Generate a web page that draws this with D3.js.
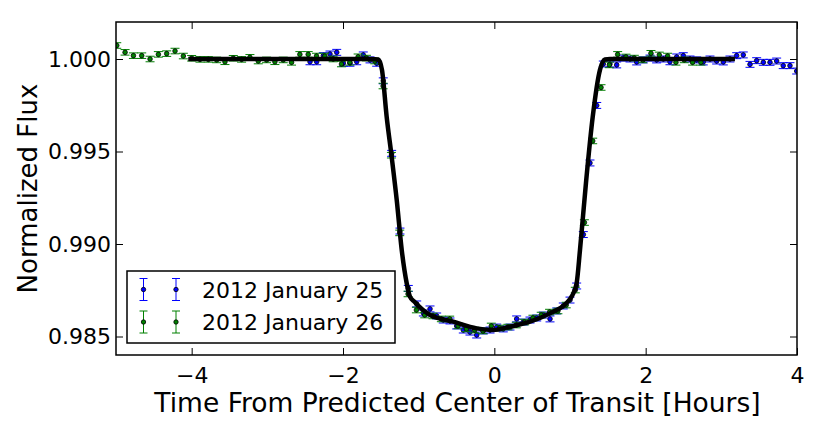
<!DOCTYPE html>
<html>
<head>
<meta charset="utf-8">
<script src="https://cdn.jsdelivr.net/npm/d3@7"></script>
<style>
body { margin: 0; background: #fff; }
text { font-family: "DejaVu Sans", sans-serif; }
</style>
</head>
<body>
<div id="chart"></div>
<script>
// data (hours from predicted mid-transit, normalized flux)
var blueTime = [-2.436, -2.348, -2.260, -2.172, -2.083, -1.996, -1.908, -1.819, -1.732, -1.643, -1.555,
  -1.468, -1.357, -1.247, -1.137,
  -1.026, -0.938, -0.850, -0.762, -0.675, -0.586, -0.498, -0.410, -0.322, -0.233, -0.146, -0.057,
  0.031, 0.118, 0.207, 0.295, 0.382, 0.471, 0.560, 0.647, 0.736, 0.824, 0.911, 1.000, 1.088,
  1.176, 1.264, 1.353, 1.440,
  1.528, 1.617, 1.704, 1.793, 1.881, 1.968, 2.057, 2.145, 2.233, 2.321, 2.410, 2.497, 2.586, 2.674,
  2.761, 2.850, 2.938, 3.026, 3.114, 3.203, 3.290, 3.379, 3.467, 3.555, 3.643, 3.731, 3.818, 3.907, 3.996];
var blueFlux = [0.99985, 0.99985, 1.00018, 1.00027, 1.00036, 0.99977, 0.99977, 0.99985, 1.00022, 0.99995, 0.99977,
  0.99882, 0.99490, 0.99070, 0.98760,
  0.98676, 0.98627, 0.98649, 0.98611, 0.98589, 0.98584, 0.98557, 0.98535, 0.98524, 0.98508, 0.98530, 0.98535,
  0.98551, 0.98541, 0.98551, 0.98595, 0.98578, 0.98589, 0.98600, 0.98616, 0.98595, 0.98638, 0.98665, 0.98697, 0.98773,
  0.99051, 0.99438, 0.99749, 0.99973,
  0.99973, 0.99968, 1.00005, 1.00000, 0.99984, 0.99995, 1.00005, 0.99995, 1.00000, 0.99985, 1.00011, 1.00018, 1.00000, 0.99995,
  0.99984, 1.00000, 0.99989, 0.99984, 1.00000, 1.00018, 1.00022, 0.99971, 0.99991, 0.99982, 0.99982, 0.99989, 0.99964, 0.99964, 0.99935];
var blueErr = 0.00016;

var greenTime = [-4.99, -4.88, -4.77, -4.66, -4.55, -4.44, -4.33, -4.22, -4.11, -4.00, -3.89, -3.78, -3.67, -3.56,
  -3.45, -3.34, -3.23, -3.12, -3.01, -2.90, -2.79, -2.68, -2.57, -2.46, -2.35, -2.24, -2.13, -2.02, -1.91, -1.80,
  -1.69, -1.58, -1.47, -1.36, -1.25, -1.14, -1.03, -0.92, -0.81, -0.70, -0.59, -0.48, -0.37, -0.26, -0.15, -0.04,
  0.07, 0.18, 0.29, 0.40, 0.51, 0.62, 0.73, 0.84, 0.95, 1.07, 1.19, 1.30, 1.41, 1.52, 1.63, 1.74, 1.85, 1.96,
  2.07, 2.18, 2.29, 2.40, 2.51, 2.62, 2.73];
var greenFlux = [1.00073, 1.00036, 1.00018, 1.00018, 1.00000, 1.00025, 1.00029, 1.00043, 1.00016, 1.00004, 0.99998,
  0.99998, 0.99995, 0.99985, 1.00004, 0.99998, 1.00009, 0.99989, 0.99995, 0.99985, 0.99995, 0.99982, 1.00025, 1.00025,
  1.00016, 1.00016, 1.00000, 0.99973, 0.99982, 1.00012, 1.00005, 0.99989, 0.99854, 0.99480, 0.99060, 0.98730,
  0.98643, 0.98616, 0.98611, 0.98595, 0.98595, 0.98557, 0.98541, 0.98535, 0.98530, 0.98557, 0.98546, 0.98551,
  0.98562, 0.98578, 0.98600, 0.98616, 0.98632, 0.98638, 0.98670, 0.98751, 0.99116, 0.99557, 0.99846, 0.99968,
  1.00025, 1.00011, 1.00005, 0.99995, 1.00031, 1.00022, 1.00016, 0.99982, 0.99995, 0.99982, 0.99982];
var greenErr = 0.00015;

// model light curve (vertices)
var modelTime = [-4.045, -1.617, -1.534, -1.485, -1.423, -1.357, -1.290, -1.224, -1.158, -1.115, -1.062, -0.850,
  -0.542, -0.233, -0.014, 0.207, 0.471, 0.735, 0.950, 1.026, 1.088, 1.132, 1.211, 1.300, 1.396, 1.462, 1.528, 3.180];
var modelFlux = [1.00000, 1.00000, 0.99997, 0.99941, 0.99688, 0.99472, 0.99238, 0.98968, 0.98788, 0.98715, 0.98690,
  0.98616, 0.98580, 0.98544, 0.98535, 0.98553, 0.98580, 0.98625, 0.98680, 0.98719, 0.98789, 0.98968, 0.99330,
  0.99686, 0.99941, 0.99997, 1.00000, 1.00000];

var xTicks = [-4, -2, 0, 2, 4];
var yTicks = [0.985, 0.990, 0.995, 1.000];
var seriesNames = ["2012 January 25", "2012 January 26"];
var seriesColors = ["#0000ff", "#008000"];

// Setting Dimensions
var margin = {top: 22, right: 33, bottom: 69, left: 116},
    width = 830 - margin.left - margin.right,
    height = 424 - margin.top - margin.bottom;

var x = d3.scaleLinear().domain([-5, 4]).range([0, width]);
var y = d3.scaleLinear().domain([0.984, 1.002]).range([height, 0]);

var svg = d3.select("#chart").append("svg")
    .attr("width", 830)
    .attr("height", 424);

var plot = svg.append("g")
    .attr("transform", "translate(" + margin.left + "," + margin.top + ")");

plot.append("clipPath").attr("id", "clip")
  .append("rect").attr("width", width).attr("height", height);

var inner = plot.append("g").attr("clip-path", "url(#clip)");

function drawSeries(times, fluxes, err, color) {
    var pts = times.map(function(t, i) { return {t: t, f: fluxes[i]}; });
    var g = inner.append("g");
    var capW = 4.5;
    g.selectAll(".bar").data(pts).enter().append("line")
        .attr("x1", function(d) { return x(d.t); })
        .attr("x2", function(d) { return x(d.t); })
        .attr("y1", function(d) { return y(d.f - err); })
        .attr("y2", function(d) { return y(d.f + err); })
        .attr("stroke", color).attr("stroke-width", 1);
    [-1, 1].forEach(function(s) {
        g.selectAll(".cap" + s).data(pts).enter().append("line")
            .attr("x1", function(d) { return x(d.t) - capW; })
            .attr("x2", function(d) { return x(d.t) + capW; })
            .attr("y1", function(d) { return y(d.f + s * err); })
            .attr("y2", function(d) { return y(d.f + s * err); })
            .attr("stroke", color).attr("stroke-width", 1);
    });
    g.selectAll("circle").data(pts).enter().append("circle")
        .attr("cx", function(d) { return x(d.t); })
        .attr("cy", function(d) { return y(d.f); })
        .attr("r", 2.3)
        .attr("fill", color)
        .attr("stroke", "#000")
        .attr("stroke-width", 0.8);
}

drawSeries(blueTime, blueFlux, blueErr, seriesColors[0]);
drawSeries(greenTime, greenFlux, greenErr, seriesColors[1]);

// model line
var line = d3.line()
    .x(function(d, i) { return x(modelTime[i]); })
    .y(function(d, i) { return y(modelFlux[i]); })
    .curve(d3.curveMonotoneX);
inner.append("path")
    .datum(modelTime)
    .attr("d", line)
    .attr("fill", "none")
    .attr("stroke", "#000")
    .attr("stroke-width", 4.5)
    .attr("stroke-linejoin", "round");

// axes (ticks inward, on all four sides)
function styleAxis(g) {
    g.select(".domain").remove();
    g.selectAll(".tick line").attr("stroke", "#000").attr("stroke-width", 1);
    g.selectAll(".tick text").attr("fill", "#000").style("font-size", "22px")
        .style("font-family", "DejaVu Sans");
}
plot.append("g")
    .attr("transform", "translate(0," + height + ")")
    .call(d3.axisBottom(x).tickValues(xTicks).tickSize(-7).tickPadding(12))
    .call(styleAxis);
plot.append("g")
    .call(d3.axisTop(x).tickValues(xTicks).tickSize(-7).tickFormat(""))
    .call(styleAxis);
plot.append("g")
    .call(d3.axisLeft(y).tickValues(yTicks).tickSize(-7).tickPadding(5).tickFormat(d3.format(".3f")))
    .call(styleAxis);
plot.append("g")
    .attr("transform", "translate(" + width + ",0)")
    .call(d3.axisRight(y).tickValues(yTicks).tickSize(-7).tickFormat(""))
    .call(styleAxis);

// frame
plot.append("rect")
    .attr("width", width).attr("height", height)
    .attr("fill", "none").attr("stroke", "#000").attr("stroke-width", 1.5);

// axis labels
svg.append("text")
    .attr("x", margin.left + width / 2 + 1)
    .attr("y", 412)
    .style("text-anchor", "middle")
    .style("font-size", "26.5px")
    .text("Time From Predicted Center of Transit [Hours]");
svg.append("text")
    .attr("transform", "rotate(-90)")
    .attr("x", -(margin.top + height / 2))
    .attr("y", 37)
    .style("text-anchor", "middle")
    .style("font-size", "26px")
    .text("Normalized Flux");

// legend
var legend = svg.append("g").attr("transform", "translate(127,271)");
legend.append("rect")
    .attr("width", 268).attr("height", 72)
    .attr("fill", "#fff").attr("stroke", "#000").attr("stroke-width", 1.5);
seriesNames.forEach(function(name, i) {
    var cy = 18.5 + i * 32.5;
    [16.5, 49].forEach(function(cx) {
        legend.append("line")
            .attr("x1", cx).attr("x2", cx).attr("y1", cy - 11).attr("y2", cy + 11)
            .attr("stroke", seriesColors[i]).attr("stroke-width", 1);
        [-11, 11].forEach(function(o) {
            legend.append("line")
                .attr("x1", cx - 4).attr("x2", cx + 4).attr("y1", cy + o).attr("y2", cy + o)
                .attr("stroke", seriesColors[i]).attr("stroke-width", 1);
        });
        legend.append("circle")
            .attr("cx", cx).attr("cy", cy).attr("r", 2.2)
            .attr("fill", seriesColors[i]).attr("stroke", "#000").attr("stroke-width", 0.8);
    });
    legend.append("text")
        .attr("x", 75).attr("y", cy + 8)
        .style("font-size", "22px")
        .text(name);
});
</script>
</body>
</html>
